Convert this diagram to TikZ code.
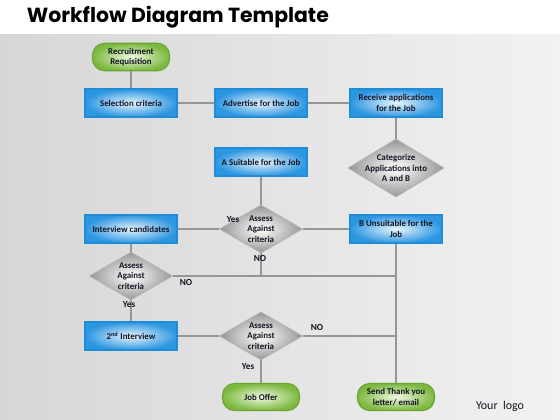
\documentclass[tikz,border=0pt]{standalone}
\usepackage{fontspec}
\setmainfont{Carlito}
\newfontfamily\titlefont{Poppins}
\usetikzlibrary{shapes.geometric,%
		positioning,%
		calc}

\definecolor{bgleft}{RGB}{214,214,214}
\definecolor{bgright}{RGB}{242,242,242}
\definecolor{boxedge}{RGB}{30,140,215}
\definecolor{boxout}{RGB}{45,150,225}
\definecolor{boxin}{RGB}{232,245,253}
\definecolor{termedge}{RGB}{105,165,50}
\definecolor{termout}{RGB}{125,185,65}
\definecolor{termin}{RGB}{240,248,226}
\definecolor{decout}{RGB}{150,150,150}
\definecolor{wire}{RGB}{150,150,150}
\definecolor{ink}{RGB}{20,20,35}

\tikzset{
  jobbox/.style={rectangle,draw=boxedge,line width=.8pt,inner color=boxin,outer color=boxout,
    minimum width=2.3cm,minimum height=.7cm,align=center,text=ink},
  term/.style={rectangle,rounded corners=.3cm,draw=termedge,line width=.8pt,inner color=termin,
    outer color=termout,minimum width=1.925cm,minimum height=.675cm,align=center,text=ink},
  decision/.style={diamond,draw=gray!60,line width=.5pt,inner color=white,outer color=decout,
    inner sep=-3pt,aspect=1.73,minimum width=2.075cm,minimum height=1.2cm,align=center,text=ink},
  wirestyle/.style={draw=wire,line width=1pt},
  ans/.style={font=\fontsize{6.6}{7.6}\selectfont\bfseries,text=ink}
}

\begin{document}
\begin{tikzpicture}[x=0.025cm,y=-0.025cm,font=\fontsize{6.3}{7.4}\selectfont\bfseries]
\useasboundingbox (0,0) rectangle (560,420);
%sfondo
\fill[white] (0,0) rectangle (560,35);
\shade[left color=bgleft,right color=bgright] (0,35) rectangle (560,420);
\node[anchor=west,font=\titlefont\fontsize{14.5}{16}\selectfont\bfseries] (title) at(22,17){Workflow Diagram Template};

%nodi
\node[term] (req) at(131,57){Recruitment\\Requisition};
\node[jobbox] (sel) at(131,103){Selection criteria};
\node[jobbox] (adv) at(261,103){Advertise for the Job};
\node[jobbox] (recv) at(396,103){Receive applications\\for the Job};
\node[decision,aspect=1.66,minimum width=2.4cm,minimum height=1.45cm] (cat) at(396,168){Categorize\\Applications into\\A and B};
\node[jobbox] (suit) at(261,162){A Suitable for the Job};
\node[decision] (assm) at(261,229){Assess\\Against\\criteria};
\node[jobbox] (inter) at(131,229){Interview candidates};
\node[jobbox] (unsuit) at(396,229){B Unsuitable for the\\Job};
\node[decision] (assl) at(131,276){Assess\\Against\\criteria};
\node[jobbox] (inter2) at(131,336){2\textsuperscript{nd} Interview};
\node[decision] (assb) at(261,336){Assess\\Against\\criteria};
\node[term] (offer) at(261,397){Job Offer};
\node[term] (thank) at(396,397){Send Thank you\\letter/ email};

%collegamenti
\draw[wirestyle] (req) -- (sel);
\draw[wirestyle] (sel) -- (adv);
\draw[wirestyle] (adv) -- (recv);
\draw[wirestyle] (recv) -- (cat);
\draw[wirestyle] (suit) -- (assm);
\draw[wirestyle] (assm) -- (inter);
\draw[wirestyle] (assm) -- (unsuit);
\draw[wirestyle] (assm.south) -- (assm.south |- assl.east);
\draw[wirestyle] (inter) -- (assl);
\draw[wirestyle] (assl.east) -- (assl.east -| thank);
\draw[wirestyle] (unsuit) -- (thank);
\draw[wirestyle] (assl) -- (inter2);
\draw[wirestyle] (inter2) -- (assb);
\draw[wirestyle] (assb.east) -- (assb.east -| thank);
\draw[wirestyle] (assb) -- (offer);

%etichette
\node[ans] (y1) at(233,220){Yes};
\node[ans] (n1) at(260,258){NO};
\node[ans] (n2) at(186,282){NO};
\node[ans] (y2) at(129,305){Yes};
\node[ans] (n3) at(317,327){NO};
\node[ans] (y3) at(248,367){Yes};
\node[font=\fontsize{8.5}{9}\selectfont,text=ink] (logo) at(500,406){Your\ \ logo};
\end{tikzpicture}
\end{document}
